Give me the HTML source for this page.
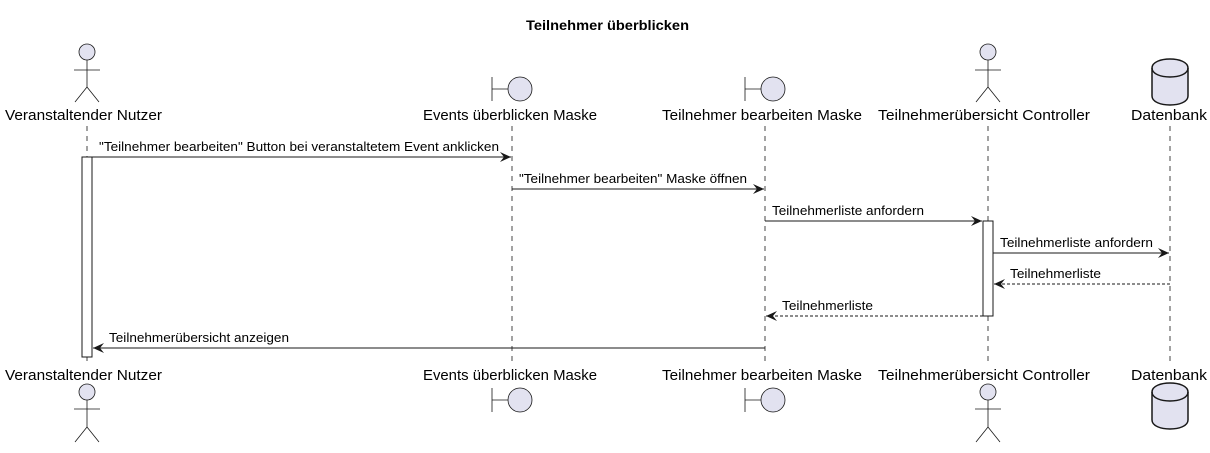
<!DOCTYPE html>
<html><head><meta charset="utf-8"><style>
html,body{margin:0;padding:0;background:#fff;}
svg text{font-family:"Liberation Sans","DejaVu Sans",sans-serif;}
</style></head><body>
<svg width="1210" height="448" viewBox="0 0 1210 448" xmlns="http://www.w3.org/2000/svg">
<defs>
<marker id="ah" viewBox="0 0 12 10" refX="11" refY="5" markerWidth="12" markerHeight="10" markerUnits="userSpaceOnUse" orient="auto">
<path d="M0,0 L11,5 L0,10 L4,5 Z" fill="#181818"/>
</marker>
</defs>
<text x="526" y="30" textLength="163" lengthAdjust="spacingAndGlyphs" font-size="14" font-weight="bold" fill="#000">Teilnehmer überblicken</text>

<g stroke="#181818" stroke-width="0.8" stroke-dasharray="5,5">
<line x1="87" y1="126" x2="87" y2="362"/>
<line x1="512" y1="126" x2="512" y2="362"/>
<line x1="765" y1="126" x2="765" y2="362"/>
<line x1="988" y1="126" x2="988" y2="362"/>
<line x1="1170" y1="126" x2="1170" y2="362"/>
</g>

<g font-size="15" fill="#000" lengthAdjust="spacingAndGlyphs">
<text x="5" y="120" textLength="157" lengthAdjust="spacingAndGlyphs">Veranstaltender Nutzer</text>
<text x="423" y="120" textLength="174" lengthAdjust="spacingAndGlyphs">Events überblicken Maske</text>
<text x="662" y="120" textLength="200" lengthAdjust="spacingAndGlyphs">Teilnehmer bearbeiten Maske</text>
<text x="878" y="120" textLength="212" lengthAdjust="spacingAndGlyphs">Teilnehmerübersicht Controller</text>
<text x="1131" y="120" textLength="76" lengthAdjust="spacingAndGlyphs">Datenbank</text>
<text x="5" y="380" textLength="157" lengthAdjust="spacingAndGlyphs">Veranstaltender Nutzer</text>
<text x="423" y="380" textLength="174" lengthAdjust="spacingAndGlyphs">Events überblicken Maske</text>
<text x="662" y="380" textLength="200" lengthAdjust="spacingAndGlyphs">Teilnehmer bearbeiten Maske</text>
<text x="878" y="380" textLength="212" lengthAdjust="spacingAndGlyphs">Teilnehmerübersicht Controller</text>
<text x="1131" y="380" textLength="76" lengthAdjust="spacingAndGlyphs">Datenbank</text>
</g>

<g stroke="#181818" stroke-width="0.8" fill="#E2E2F0">
<circle cx="87" cy="52" r="8"/>
<path d="M87,60 V87 M74,70 H100 M75,102 L87,87 L99,102" fill="none"/>
<circle cx="988" cy="52" r="8"/>
<path d="M988,60 V87 M975,70 H1001 M976,102 L988,87 L1000,102" fill="none"/>
<circle cx="87" cy="392" r="8"/>
<path d="M87,400 V427 M74,409 H100 M75,442 L87,427 L99,442" fill="none"/>
<circle cx="988" cy="392" r="8"/>
<path d="M988,400 V427 M975,409 H1001 M976,442 L988,427 L1000,442" fill="none"/>
<circle cx="520" cy="89" r="12"/>
<path d="M492,77 V101 M492,89 H508" fill="none"/>
<circle cx="773" cy="89" r="12"/>
<path d="M745,77 V101 M745,89 H761" fill="none"/>
<circle cx="520" cy="400" r="12"/>
<path d="M492,388 V412 M492,400 H508" fill="none"/>
<circle cx="773" cy="400" r="12"/>
<path d="M745,388 V412 M745,400 H761" fill="none"/>
</g>
<g stroke="#181818" stroke-width="1.5" fill="#E2E2F0">
<path d="M1152,68 C1152,56 1188,56 1188,68 V96 C1188,108 1152,108 1152,96 Z"/>
<path d="M1152,68 C1152,80 1188,80 1188,68" fill="none"/>
<path d="M1152,392 C1152,380 1188,380 1188,392 V420 C1188,432 1152,432 1152,420 Z"/>
<path d="M1152,392 C1152,404 1188,404 1188,392" fill="none"/>
</g>

<rect x="82" y="157" width="10" height="200" fill="#fff" stroke="#181818" stroke-width="1"/>
<rect x="983" y="221" width="10" height="95" fill="#fff" stroke="#181818" stroke-width="1"/>

<g stroke="#181818" stroke-width="1" fill="none">
<line x1="92" y1="157" x2="511" y2="157" marker-end="url(#ah)"/>
<line x1="512" y1="189" x2="764" y2="189" marker-end="url(#ah)"/>
<line x1="765" y1="221" x2="982" y2="221" marker-end="url(#ah)"/>
<line x1="993" y1="253" x2="1169" y2="253" marker-end="url(#ah)"/>
<line x1="1170" y1="284" x2="994" y2="284" stroke-dasharray="3,2" marker-end="url(#ah)"/>
<line x1="983" y1="316" x2="766" y2="316" stroke-dasharray="3,2" marker-end="url(#ah)"/>
<line x1="765" y1="348" x2="93" y2="348" marker-end="url(#ah)"/>
</g>
<g font-size="13" fill="#000">
<text x="99" y="151" textLength="400" lengthAdjust="spacingAndGlyphs">"Teilnehmer bearbeiten" Button bei veranstaltetem Event anklicken</text>
<text x="519" y="183" textLength="228" lengthAdjust="spacingAndGlyphs">"Teilnehmer bearbeiten" Maske öffnen</text>
<text x="772" y="215" textLength="152" lengthAdjust="spacingAndGlyphs">Teilnehmerliste anfordern</text>
<text x="1000" y="247" textLength="153" lengthAdjust="spacingAndGlyphs">Teilnehmerliste anfordern</text>
<text x="1010" y="278" textLength="91" lengthAdjust="spacingAndGlyphs">Teilnehmerliste</text>
<text x="782" y="310" textLength="91" lengthAdjust="spacingAndGlyphs">Teilnehmerliste</text>
<text x="109" y="342" textLength="180" lengthAdjust="spacingAndGlyphs">Teilnehmerübersicht anzeigen</text>
</g>
</svg>
</body></html>
